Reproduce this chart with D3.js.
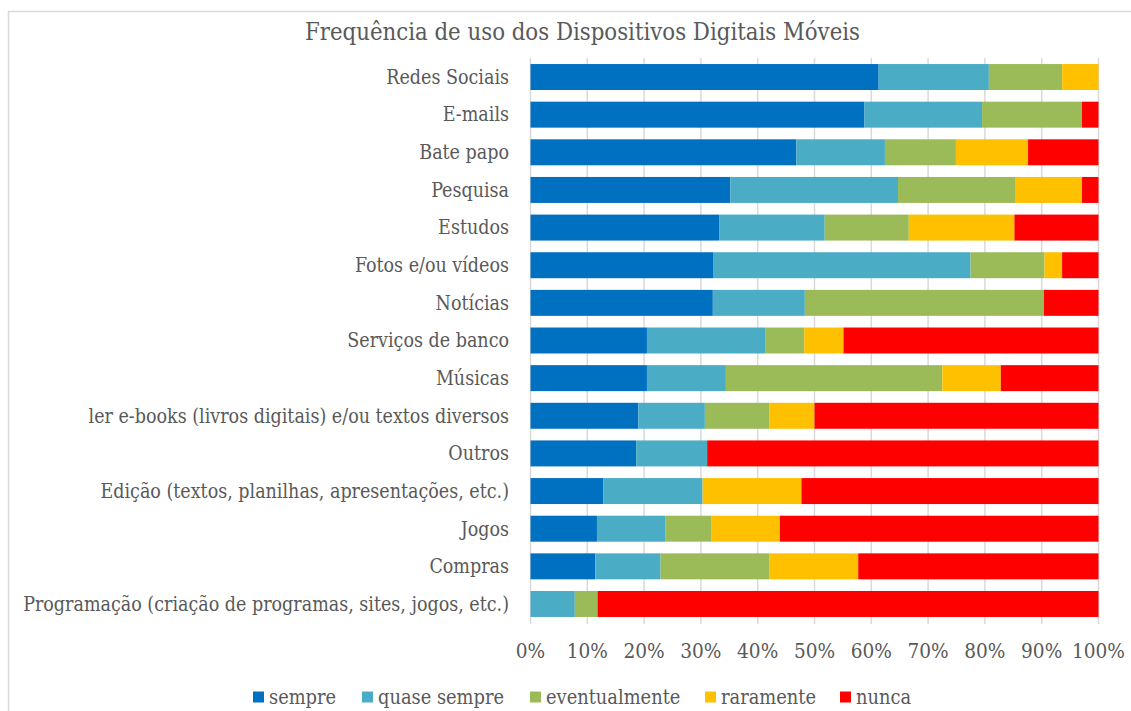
<!DOCTYPE html>
<html>
<head>
<meta charset="utf-8">
<script src="https://cdn.jsdelivr.net/npm/d3@7"></script>
<style>
html,body{margin:0;padding:0;background:#fff;}
svg{display:block;}
</style>
</head>
<body>
<svg id="chart" width="1131" height="711"></svg>
<script>
const title = "Frequência de uso dos Dispositivos Digitais Móveis";
const categories = [
  "Redes Sociais","E-mails","Bate papo","Pesquisa","Estudos","Fotos e/ou vídeos","Notícias",
  "Serviços de banco","Músicas","ler e-books (livros digitais) e/ou textos diversos","Outros",
  "Edição (textos, planilhas, apresentações, etc.)","Jogos","Compras",
  "Programação (criação de programas, sites, jogos, etc.)"
];
const seriesNames = ["sempre","quase sempre","eventualmente","raramente","nunca"];
const seriesColors = ["#0070C0","#4BACC6","#9BBB59","#FFC000","#FF0000"];
const sempre       = [61.3,58.8,46.8,35.2,33.2,32.1,32.1,20.5,20.5,19.0,18.6,12.8,11.7,11.4,0];
const quaseSempre  = [19.4,20.7,15.6,29.5,18.6,45.3,16.2,20.8,13.9,11.7,12.5,17.5,12.1,11.5,7.8];
const eventualmente= [12.9,17.6,12.5,20.6,14.8,13.0,42.1,6.9,38.1,11.4,0,0,8.1,19.2,4.0];
const raramente    = [6.4,0,12.7,11.8,18.6,3.1,0,6.9,10.3,7.9,0,17.4,12.0,15.6,0];
const nunca        = [0,2.9,12.4,2.9,14.8,6.4,9.6,44.9,17.2,50.0,68.9,52.3,56.1,42.3,88.2];
const tickValues = [0,0.1,0.2,0.3,0.4,0.5,0.6,0.7,0.8,0.9,1.0];

const seriesData = [sempre, quaseSempre, eventualmente, raramente, nunca];
const rows = categories.map((c,i)=>{
  const r = {cat:c};
  seriesNames.forEach((s,j)=>{ r[s] = seriesData[j][i]; });
  return r;
});
const stack = d3.stack().keys(seriesNames).offset(d3.stackOffsetExpand);
const stacked = stack(rows);

const svg = d3.select("#chart");
const FONT = "'DejaVu Serif Condensed', 'Liberation Serif', serif";
const textColor = "#595959";

svg.append("path")
  .attr("d","M8.5,711 L8.5,11.5 L1131,11.5")
  .attr("fill","none").attr("stroke","#d9d9d9").attr("stroke-width",1.5);

const x = d3.scaleLinear().domain([0,1]).range([530.5,1098.5]);
const y = d3.scaleBand().domain(categories).range([58.2,622.8]).paddingInner(0.31).paddingOuter(0.155);

function fit(sel, targetW){
  const node = sel.node();
  const w = node.getComputedTextLength();
  const fs = parseFloat(sel.attr("font-size"));
  sel.attr("font-size", (fs*targetW/w).toFixed(2));
}

svg.append("g").selectAll("line").data(tickValues).join("line")
  .attr("x1",d=>x(d)).attr("x2",d=>x(d))
  .attr("y1",58).attr("y2",624)
  .attr("stroke","#d9d9d9").attr("stroke-width",1.5);

svg.append("g").selectAll("g").data(stacked).join("g")
  .attr("fill",(d,i)=>seriesColors[i])
  .selectAll("rect").data(d=>d).join("rect")
  .attr("x",d=>x(d[0])).attr("width",d=>Math.max(0,x(d[1])-x(d[0])))
  .attr("y",d=>y(d.data.cat)).attr("height",y.bandwidth());

const lab = svg.append("g").selectAll("text").data(categories).join("text")
  .attr("x",509).attr("y",d=>y(d)+y.bandwidth()/2)
  .attr("dy","0.35em").attr("text-anchor","end")
  .attr("font-family",FONT).attr("font-size",19).attr("fill",textColor)
  .text(d=>d);
{
  const longest = lab.filter(d=>d===categories[14]);
  fit(longest, 486);
  lab.attr("font-size", longest.attr("font-size"));
}

const fmt = d3.format(".0%");
const tl = svg.append("g").selectAll("text").data(tickValues).join("text")
  .attr("x",d=>x(d)).attr("y",651).attr("dy","0.35em").attr("text-anchor","middle")
  .attr("font-family",FONT).attr("font-size",20).attr("fill",textColor)
  .text(d=>fmt(d));
{
  const last = tl.filter(d=>d===1);
  fit(last, 53);
  tl.attr("font-size", last.attr("font-size"));
}

const tt = svg.append("text").attr("x",582.5).attr("y",32).attr("dy","0.35em")
  .attr("text-anchor","middle").attr("font-family",FONT).attr("font-size",22)
  .attr("fill",textColor).text(title);
fit(tt, 555);

const legendX = [253,362,530,705,840];
const lg = svg.append("g").selectAll("g").data(seriesNames).join("g")
  .attr("transform",(d,i)=>`translate(${legendX[i]},0)`);
lg.append("rect").attr("x",0).attr("y",691.5).attr("width",11).attr("height",11)
  .attr("fill",(d,i)=>seriesColors[i]);
const lt = lg.append("text").attr("x",16).attr("y",697).attr("dy","0.35em")
  .attr("font-family",FONT).attr("font-size",20).attr("fill",textColor).text(d=>d);
{
  const q = lt.filter(d=>d==="quase sempre");
  fit(q, 126);
  lt.attr("font-size", q.attr("font-size"));
}
</script>
</body>
</html>
